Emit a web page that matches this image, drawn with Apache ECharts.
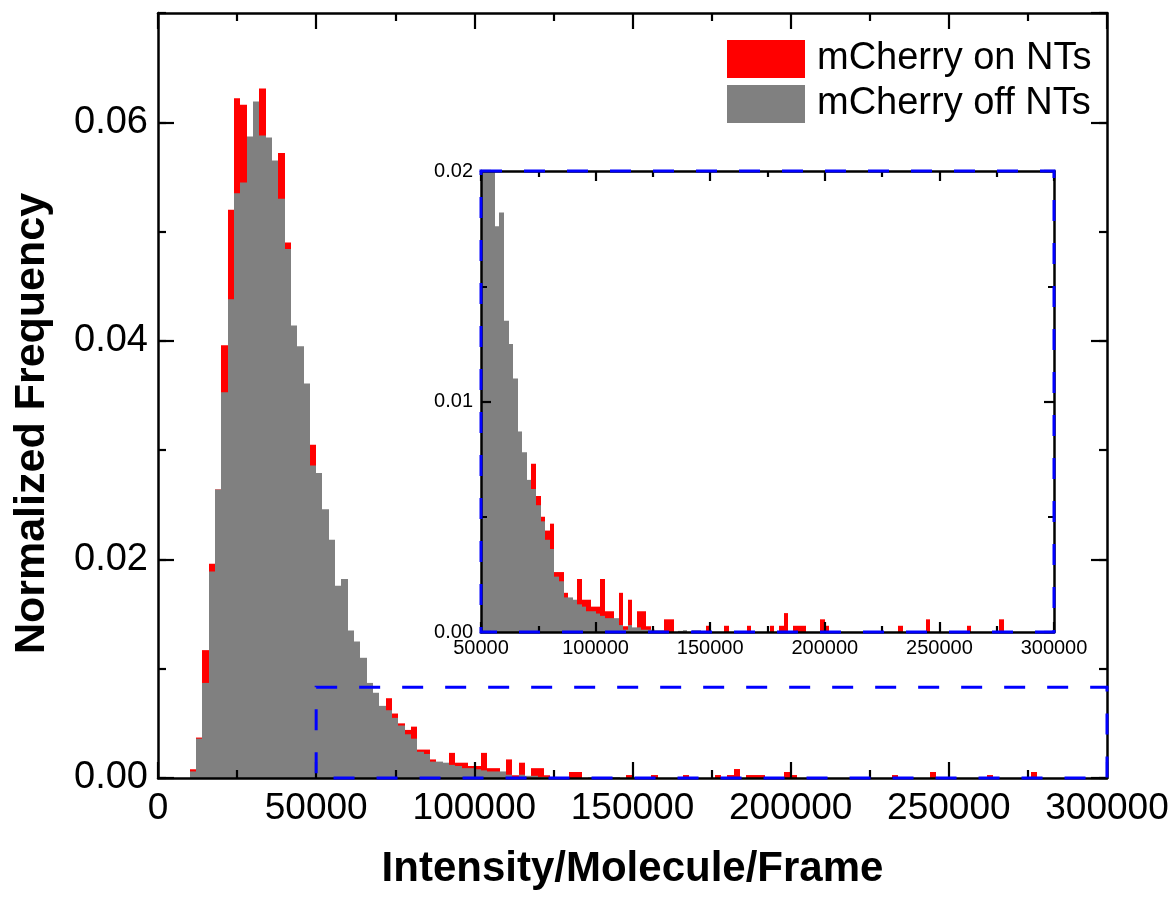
<!DOCTYPE html>
<html>
<head>
<meta charset="utf-8">
<script src="https://cdn.jsdelivr.net/npm/echarts@6/dist/echarts.min.js"></script>
<style>
html,body{margin:0;padding:0;background:#fff;}
#chart{width:1172px;height:900px;}
</style>
</head>
<body>
<div id="chart"></div>
<script>
// ---- data ----
const BIN_WIDTH = 2000;
const binStarts = [
  0,2000,4000,6000,8000,10000,12000,14000,16000,18000,
  20000,22000,24000,26000,28000,30000,32000,34000,36000,38000,
  40000,42000,44000,46000,48000,50000,52000,54000,56000,58000,
  60000,62000,64000,66000,68000,70000,72000,74000,76000,78000,
  80000,82000,84000,86000,88000,90000,92000,94000,96000,98000,
  100000,102000,104000,106000,108000,110000,112000,114000,116000,118000,
  120000,122000,124000,126000,128000,130000,132000,134000,136000,138000,
  140000,142000,144000,146000,148000,150000,152000,154000,156000,158000,
  160000,162000,164000,166000,168000,170000,172000,174000,176000,178000,
  180000,182000,184000,186000,188000,190000,192000,194000,196000,198000,
  200000,202000,204000,206000,208000,210000,212000,214000,216000,218000,
  220000,222000,224000,226000,228000,230000,232000,234000,236000,238000,
  240000,242000,244000,246000,248000,250000,252000,254000,256000,258000,
  260000,262000,264000,266000,268000,270000,272000,274000,276000,278000
];
// mCherry on NTs (red)
const onNTs = [
  0,0,0,0,0,0.0008,0.0037,0.0117,0.0196,0.0264,
  0.0396,0.0520,0.0622,0.0616,0.0530,0.0560,0.0631,0.0540,0.0520,0.0572,
  0.0490,0.0380,0.0360,0.0330,0.0305,0.0250,0.0220,0.0195,0.0160,0.0160,
  0.0120,0.0110,0.0098,0.0080,0.0070,0.0060,0.0073,0.0059,0.0050,0.0044,
  0.0047,0.0026,0.0026,0.0017,0.0014,0.0012,0.0023,0.0014,0.0014,0.0011,
  0.0011,0.0023,0.0009,0.0009,0.0005,0.0017,0.00025,0.0014,0,0.0009,
  0.0009,0.00025,0,0,0,0.00055,0.00055,0,0,0,
  0,0,0,0,0.00027,0,0,0,0.00027,0,
  0,0,0,0.00027,0,0,0,0,0.00027,0,
  0.00027,0.00082,0,0.00027,0.00027,0.00027,0,0,0,0.00055,
  0.00027,0,0,0,0,0,0,0,0,0,
  0,0,0,0,0,0,0.00027,0,0,0,
  0,0,0.00055,0,0,0,0,0,0,0,
  0,0.00027,0,0,0,0,0,0,0.00055,0
];
// mCherry off NTs (gray)
const offNTs = [
  0,0,0,0,0,0.0006,0.0036,0.0087,0.0189,0.0264,
  0.0353,0.0438,0.0535,0.0545,0.0587,0.0619,0.0588,0.0586,0.0565,0.0530,
  0.0484,0.0414,0.0395,0.0361,0.0286,0.0279,0.0246,0.0218,0.0176,0.0182,
  0.0135,0.0125,0.0110,0.0087,0.0078,0.0066,0.0062,0.0055,0.0048,0.0040,
  0.0036,0.0024,0.0022,0.0015,0.0015,0.0014,0.0012,0.0011,0.0009,0.0009,
  0.0008,0.0007,0.0006,0.0006,0.0006,0.0003,0.0001,0.0003,0.0002,0.0002,
  0.0001,0.0001,0.0001,0.00008,0.00008,0,0,0,0.00005,0.00008,
  0,0.00008,0.00008,0,0,0,0,0,0,0,
  0,0,0,0,0,0,0,0,0,0,
  0,0,0,0,0,0,0,0,0,0,
  0,0,0,0,0,0,0,0,0,0,
  0,0,0,0,0,0,0,0,0,0,
  0,0,0,0,0,0,0,0,0,0,
  0,0,0,0,0,0,0,0,0,0
];
const seriesNames = ['mCherry on NTs', 'mCherry off NTs'];
const mainXRange = [0, 300000];
const mainYRange = [0, 0.07];
const insetXRange = [50000, 300000];
const insetYRange = [0, 0.02];
const zoomBoxX = [50000, 300000];
const zoomBoxY = [0, 0.0083];

// ---- chart ----
const FONT = "Arial, 'Liberation Sans', sans-serif";
const chart = echarts.init(document.getElementById('chart'), null, {renderer: 'canvas'});

function toRows(vals) {
  return binStarts.map((s, i) => [s, s + BIN_WIDTH, vals[i]]);
}
function renderBar(params, api) {
  const v = api.value(2);
  if (!v) return null;
  const p0 = api.coord([api.value(0), v]);
  const p1 = api.coord([api.value(1), 0]);
  const cs = params.coordSys;
  const x0 = Math.round(p0[0]), x1 = Math.round(p1[0]);
  const shape = echarts.graphic.clipRectByRect(
    {x: x0, y: p0[1], width: x1 - x0, height: p1[1] - p0[1]},
    {x: cs.x, y: cs.y, width: cs.width, height: cs.height});
  if (!shape) return null;
  return {type: 'rect', shape: shape, style: {fill: api.visual('color')}};
}
function histSeries(name, vals, color, gi, z) {
  return {
    type: 'custom', name: name, renderItem: renderBar,
    xAxisIndex: gi === 0 ? 0 : 2, yAxisIndex: gi === 0 ? 0 : 4,
    data: toRows(vals), encode: {x: [0, 1], y: 2},
    itemStyle: {color: color}, z: z, silent: true, animation: false
  };
}
function xAx(gi, pos, range, tickLen, minorLen, label, labelSize, margin) {
  return {
    type: 'value', gridIndex: gi, position: pos, min: range[0], max: range[1], interval: 50000, z: 5,
    axisLine: {show: true, onZero: false, lineStyle: {color: '#000', width: 2.5}},
    axisTick: {show: true, inside: true, length: tickLen, lineStyle: {color: '#000', width: 2.2}},
    minorTick: {show: true, splitNumber: 2, length: minorLen, lineStyle: {color: '#000', width: 2.2}},
    axisLabel: {show: label, fontSize: labelSize, color: '#000', fontFamily: FONT, margin: margin,
      formatter: v => String(Math.round(v))},
    splitLine: {show: false}, minorSplitLine: {show: false}
  };
}
function yAx(gi, pos, range, interval, tickLen, label, labelSize, margin, line) {
  return {
    type: 'value', gridIndex: gi, position: pos, min: range[0], max: range[1], interval: interval, z: 5,
    axisLine: {show: line, onZero: false, lineStyle: {color: '#000', width: 2.5}},
    axisTick: {show: true, inside: true, length: tickLen, lineStyle: {color: '#000', width: 2.2}},
    axisLabel: {show: label, fontSize: labelSize, color: '#000', fontFamily: FONT, margin: margin,
      showMaxLabel: false, formatter: v => v.toFixed(2)},
    splitLine: {show: false}
  };
}

const xMain = xAx(0, 'bottom', mainXRange, 16, 8, true, 37, 12);
xMain.name = 'Intensity/Molecule/Frame';
xMain.nameLocation = 'middle';
xMain.nameGap = 70;
xMain.nameTextStyle = {fontSize: 42, fontWeight: 'bold', color: '#000', fontFamily: FONT};
const yMain = yAx(0, 'left', mainYRange, 0.02, 16, true, 38, 10, true);
yMain.name = 'Normalized Frequency';
yMain.nameLocation = 'middle';
yMain.nameGap = 104;
yMain.nameTextStyle = {fontSize: 43, fontWeight: 'bold', color: '#000', fontFamily: FONT, padding: [0, 56, 0, 0]};

const insetX = xAx(1, 'bottom', insetXRange, 10, 6, true, 20, 6);
const insetY = yAx(1, 'left', insetYRange, 0.01, 10, true, 20, 8, true);
insetY.minorTick = {show: true, splitNumber: 2, length: 6, lineStyle: {color: '#000', width: 2}};
insetY.axisLabel.showMaxLabel = true;
const insetYR = yAx(1, 'right', insetYRange, 0.01, 10, false, 20, 8, true);
insetYR.minorTick = {show: true, splitNumber: 2, length: 6, lineStyle: {color: '#000', width: 2}};

const option = {
  backgroundColor: '#fff',
  animation: false,
  grid: [
    {left: 158, top: 13, width: 949, height: 765},
    {left: 481, top: 171, width: 573, height: 461, show: true, backgroundColor: '#fff', borderWidth: 0}
  ],
  legend: {
    data: seriesNames, orient: 'vertical', left: 727, top: 40, padding: 0,
    itemWidth: 78, itemHeight: 38, itemGap: 7, icon: 'rect', selectedMode: false,
    textStyle: {fontSize: 38, color: '#000', fontFamily: FONT, padding: [0, 0, 0, 7]}
  },
  xAxis: [
    xMain,
    xAx(0, 'top', mainXRange, 16, 8, false, 37, 12),
    insetX,
    xAx(1, 'top', insetXRange, 10, 6, false, 20, 6)
  ],
  yAxis: [
    yMain,
    yAx(0, 'left', mainYRange, 0.01, 8, false, 37, 10, false),
    yAx(0, 'right', mainYRange, 0.02, 16, false, 37, 10, true),
    yAx(0, 'right', mainYRange, 0.01, 8, false, 37, 10, false),
    insetY,
    insetYR
  ],
  series: [
    histSeries(seriesNames[0], onNTs, '#ff0000', 0, 2),
    histSeries(seriesNames[1], offNTs, '#808080', 0, 3),
    histSeries(seriesNames[0], onNTs, '#ff0000', 1, 2),
    histSeries(seriesNames[1], offNTs, '#808080', 1, 3)
  ]
};
chart.setOption(option);

function boxGraphic(xa, ya, xr, yr) {
  const a = chart.convertToPixel({xAxisIndex: xa, yAxisIndex: ya}, [xr[0], yr[1]]);
  const b = chart.convertToPixel({xAxisIndex: xa, yAxisIndex: ya}, [xr[1], yr[0]]);
  return {
    type: 'rect', z: 100, silent: true,
    shape: {x: a[0], y: a[1], width: b[0] - a[0], height: b[1] - a[1]},
    style: {fill: null, stroke: '#0000ff', lineWidth: 3, lineDash: [21, 22]}
  };
}
chart.setOption({graphic: [
  boxGraphic(0, 0, zoomBoxX, zoomBoxY),
  boxGraphic(2, 4, insetXRange, insetYRange)
]});
</script>
</body>
</html>
